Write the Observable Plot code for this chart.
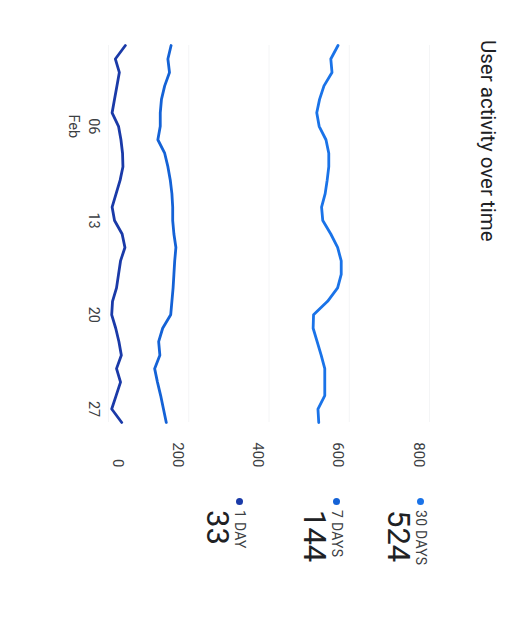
<!DOCTYPE html>
<html>
<head>
<meta charset="utf-8">
<script src="https://cdn.jsdelivr.net/npm/d3@7"></script>
<script src="https://cdn.jsdelivr.net/npm/@observablehq/plot@0.6"></script>
<style>
  html, body { margin: 0; padding: 0; background: #ffffff; }
  body { width: 532px; height: 622px; overflow: hidden; position: relative; }
  #card {
    position: absolute; left: 0; top: 0; width: 622px; height: 532px;
    transform-origin: 0 0; transform: translate(532px, 0) rotate(90deg);
    font-family: Roboto, "Noto Sans", sans-serif; background: #ffffff;
  }
  #title { position: absolute; left: 40px; top: 32px; font-size: 20.5px; color: #202124; white-space: nowrap; }
  #chart { position: absolute; left: 0; top: 0; }
  .lg { position: absolute; white-space: nowrap; }
  .lg .lab { font-size: 14px; line-height: 16px; color: #3c4043; letter-spacing: 0.3px; display: flex; align-items: center; }
  .lg .dot { width: 7px; height: 7px; border-radius: 50%; display: inline-block; margin-right: 5px; }
  .lg .num { font-size: 31px; color: #202124; margin-left: 12px; line-height: 30px; }
</style>
</head>
<body>
<div id="card">
  <div id="title">User activity over time</div>
  <div id="chart"></div>
</div>
<script>
const dates = ["2023-01-31","2023-02-01","2023-02-02","2023-02-03","2023-02-04","2023-02-05","2023-02-06","2023-02-07","2023-02-08","2023-02-09","2023-02-10","2023-02-11","2023-02-12","2023-02-13","2023-02-14","2023-02-15","2023-02-16","2023-02-17","2023-02-18","2023-02-19","2023-02-20","2023-02-21","2023-02-22","2023-02-23","2023-02-24","2023-02-25","2023-02-26","2023-02-27","2023-02-28"];
const users30 = [572,554,557,537,526,519,525,542,549,549,545,540,531,534,554,571,580,580,571,546,511,510,520,530,539,539,539,522,524];
const users7 = [156,148,152,140,132,129,129,123,140,148,154,158,160,160,163,168,165,163,161,158,155,135,125,128,115,122,130,137,144];
const users1 = [42,17,27,21,15,9,25,31,35,36,29,19,9,15,34,41,30,25,20,10,8,18,26,32,20,30,19,8,33];
const seriesNames = ["30 DAYS","7 DAYS","1 DAY"];
const legendValues = [524,144,33];
const seriesColors = ["#1a73e8","#1462d6","#1a3aa8"];
const yTicks = [0,200,400,600,800];
const xTicks = ["2023-02-06","2023-02-13","2023-02-20","2023-02-27"];
const xTickLabels = ["06\nFeb","13","20","27"];

const parse = d3.utcParse("%Y-%m-%d");
const rows = [];
[users30, users7, users1].forEach((arr, s) => {
  arr.forEach((v, i) => rows.push({date: parse(dates[i]), value: v, series: seriesNames[s]}));
});
const xt = xTicks.map((d, i) => ({date: parse(d), label: xTickLabels[i]}));

const chart = Plot.plot({
  width: 622, height: 532,
  marginLeft: 45, marginRight: 200, marginTop: 102, marginBottom: 109,
  style: {fontFamily: "Roboto, 'Noto Sans', sans-serif", background: "transparent", color: "#3c4043"},
  x: {type: "utc", domain: [parse(dates[0]), parse(dates[dates.length - 1])], axis: null},
  y: {domain: [0, 800], axis: null},
  color: {domain: seriesNames, range: seriesColors},
  marks: [
    Plot.ruleY(yTicks, {stroke: "#f4f5f6", strokeWidth: 1}),
    Plot.line(rows, {x: "date", y: "value", z: "series", stroke: "series", strokeWidth: 2.8, strokeLinejoin: "round", strokeLinecap: "round"}),
    Plot.text(xt, {x: "date", text: "label", frameAnchor: "bottom", lineAnchor: "top", dy: 5, fontSize: 14.5, lineHeight: 1.4, fill: "#3c4043"}),
    Plot.text(yTicks.filter(d => d > 0), {y: d => d, text: d => String(d), frameAnchor: "right", textAnchor: "end", dx: 45, dy: 11, fontSize: 15, fill: "#3c4043"}),
    Plot.text(yTicks.filter(d => d === 0), {y: d => d, text: d => String(d), frameAnchor: "right", textAnchor: "end", dx: 45, dy: -9, fontSize: 15, fill: "#3c4043"})
  ]
});
document.getElementById("chart").appendChild(chart);

// legend (right column)
const card = document.getElementById("card");
const legendTops = [103, 187, 284];
seriesNames.forEach((name, i) => {
  const el = document.createElement("div");
  el.className = "lg";
  el.style.left = "498px";
  el.style.top = legendTops[i] + "px";
  el.innerHTML = `<div class="lab"><span class="dot" style="background:${seriesColors[i]}"></span>${name}</div><div class="num">${legendValues[i]}</div>`;
  card.appendChild(el);
});
</script>
</body>
</html>
